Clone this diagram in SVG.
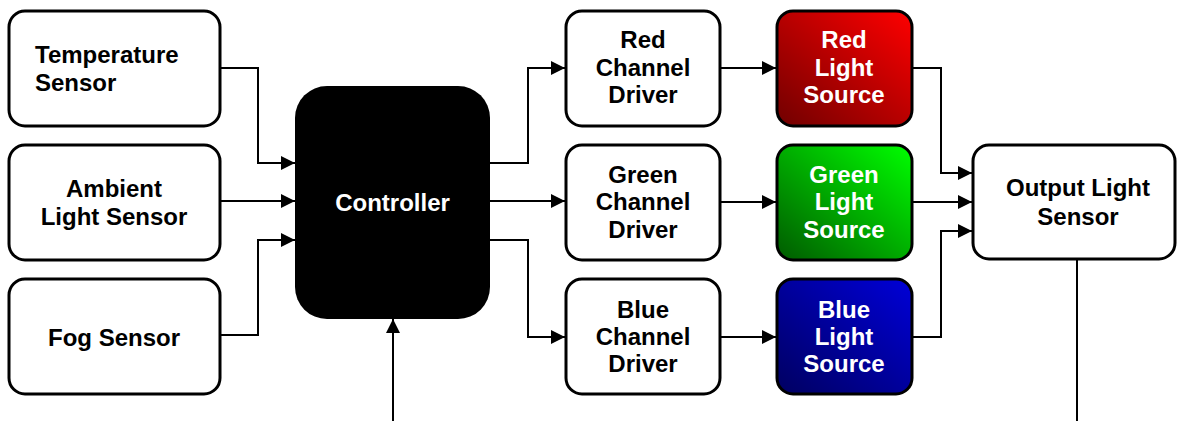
<svg xmlns="http://www.w3.org/2000/svg" width="1177" height="421" viewBox="0 0 1177 421">
  <style>
    .box { fill: #ffffff; stroke: #000000; stroke-width: 3; }
    .src { stroke: #000000; stroke-width: 3; }
    .lbl { font-family: "Liberation Sans", Arial, sans-serif; font-weight: bold; font-size: 24px; fill: #000000; }
    .lblw { font-family: "Liberation Sans", Arial, sans-serif; font-weight: bold; font-size: 24px; fill: #ffffff; }
    .mid { text-anchor: middle; }
    .wire { fill: none; stroke: #000000; stroke-width: 2; }
  </style>
  <defs>
    <marker id="arrow" viewBox="0 0 14 14" refX="14" refY="7" markerWidth="14" markerHeight="14" markerUnits="userSpaceOnUse" orient="auto">
      <path d="M0,0 L14,7 L0,14 Z" fill="#000000"/>
    </marker>
    <linearGradient id="gRed" x1="0" y1="1" x2="1" y2="0">
      <stop offset="0" stop-color="#700000"/>
      <stop offset="1" stop-color="#ff0000"/>
    </linearGradient>
    <linearGradient id="gGreen" x1="0" y1="1" x2="1" y2="0">
      <stop offset="0" stop-color="#005a00"/>
      <stop offset="1" stop-color="#00ff00"/>
    </linearGradient>
    <linearGradient id="gBlue" x1="0" y1="1" x2="1" y2="0">
      <stop offset="0" stop-color="#000060"/>
      <stop offset="1" stop-color="#0000d8"/>
    </linearGradient>
  </defs>

  <!-- connectors -->
  <g id="connectors">
    <path class="wire" d="M220,68 H258 V163 H295" marker-end="url(#arrow)"/>
    <path class="wire" d="M220,201 H295" marker-end="url(#arrow)"/>
    <path class="wire" d="M220,335 H258 V240 H295" marker-end="url(#arrow)"/>
    <path class="wire" d="M393,421 V319" marker-end="url(#arrow)"/>
    <path class="wire" d="M490,163 H528 V68 H565" marker-end="url(#arrow)"/>
    <path class="wire" d="M490,201 H565" marker-end="url(#arrow)"/>
    <path class="wire" d="M490,240 H528 V337 H565" marker-end="url(#arrow)"/>
    <path class="wire" d="M720,68 H776" marker-end="url(#arrow)"/>
    <path class="wire" d="M720,202 H776" marker-end="url(#arrow)"/>
    <path class="wire" d="M720,337 H776" marker-end="url(#arrow)"/>
    <path class="wire" d="M912,68 H941 V173 H972" marker-end="url(#arrow)"/>
    <path class="wire" d="M912,202 H972" marker-end="url(#arrow)"/>
    <path class="wire" d="M912,337 H941 V231 H972" marker-end="url(#arrow)"/>
    <path class="wire" d="M1077,259 V421"/>
  </g>

  <g id="temperature-sensor">
    <rect class="box" x="9" y="11" width="211" height="115" rx="16"/>
    <text class="lbl" x="35" y="63">Temperature</text>
    <text class="lbl" x="35" y="91">Sensor</text>
  </g>

  <g id="ambient-light-sensor">
    <rect class="box" x="9" y="145" width="211" height="115" rx="16"/>
    <text class="lbl mid" x="114" y="197">Ambient</text>
    <text class="lbl mid" x="114" y="225">Light Sensor</text>
  </g>

  <g id="fog-sensor">
    <rect class="box" x="9" y="279" width="211" height="115" rx="16"/>
    <text class="lbl mid" x="114" y="346">Fog Sensor</text>
  </g>

  <g id="controller">
    <rect x="295" y="86" width="195" height="233" rx="32" fill="#000000"/>
    <text class="lblw mid" x="392.5" y="211">Controller</text>
  </g>

  <g id="red-channel-driver">
    <rect class="box" x="566" y="11" width="154" height="115" rx="16"/>
    <text class="lbl mid" x="643" y="48">Red</text>
    <text class="lbl mid" x="643" y="76">Channel</text>
    <text class="lbl mid" x="643" y="103">Driver</text>
  </g>

  <g id="green-channel-driver">
    <rect class="box" x="566" y="145" width="154" height="115" rx="16"/>
    <text class="lbl mid" x="643" y="183">Green</text>
    <text class="lbl mid" x="643" y="210">Channel</text>
    <text class="lbl mid" x="643" y="238">Driver</text>
  </g>

  <g id="blue-channel-driver">
    <rect class="box" x="566" y="279" width="154" height="115" rx="16"/>
    <text class="lbl mid" x="643" y="318">Blue</text>
    <text class="lbl mid" x="643" y="345">Channel</text>
    <text class="lbl mid" x="643" y="372">Driver</text>
  </g>

  <g id="red-light-source">
    <rect class="src" x="777" y="11" width="135" height="115" rx="16" fill="url(#gRed)"/>
    <text class="lblw mid" x="844" y="48">Red</text>
    <text class="lblw mid" x="844" y="76">Light</text>
    <text class="lblw mid" x="844" y="103">Source</text>
  </g>

  <g id="green-light-source">
    <rect class="src" x="777" y="145" width="135" height="115" rx="16" fill="url(#gGreen)"/>
    <text class="lblw mid" x="844" y="183">Green</text>
    <text class="lblw mid" x="844" y="210">Light</text>
    <text class="lblw mid" x="844" y="238">Source</text>
  </g>

  <g id="blue-light-source">
    <rect class="src" x="777" y="279" width="135" height="115" rx="16" fill="url(#gBlue)"/>
    <text class="lblw mid" x="844" y="318">Blue</text>
    <text class="lblw mid" x="844" y="345">Light</text>
    <text class="lblw mid" x="844" y="372">Source</text>
  </g>

  <g id="output-light-sensor">
    <rect class="box" x="973" y="145" width="202" height="114" rx="16"/>
    <text class="lbl mid" x="1078" y="196">Output Light</text>
    <text class="lbl mid" x="1078" y="225">Sensor</text>
  </g>
</svg>
